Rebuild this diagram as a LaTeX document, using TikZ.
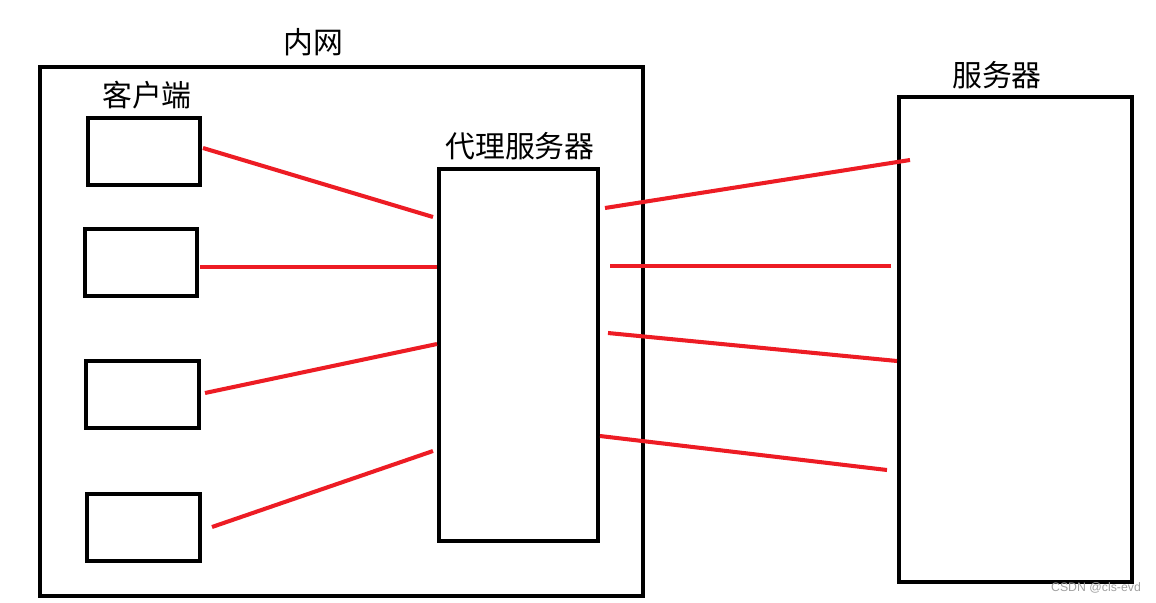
\documentclass[tikz,border=0pt]{standalone}
\usepackage{fontspec}
\usepackage{tikz}
\usetikzlibrary{positioning}
\newfontfamily\cjk{Noto Sans CJK SC}
\newfontfamily\wmfont{Liberation Sans}
\definecolor{linkred}{HTML}{ED1C24}
\definecolor{markgray}{HTML}{A0A0A0}

\begin{document}
\begin{tikzpicture}[x=0.02cm,y=-0.02cm,
  box/.style={draw,line width=2.3pt,inner sep=0pt},
  client/.style={box,minimum width=2.25cm,minimum height=1.34cm},
  link/.style={linkred,line width=2.3pt},
  tag/.style={font=\cjk\fontsize{17pt}{20pt}\selectfont,inner sep=0pt}]
\useasboundingbox (0,0) rectangle (1156,602);
\node[box,minimum width=12.06cm,minimum height=10.58cm] (net) at (341.5,331.5) {};
\node[tag] (netlabel) at (313,42) {内网};
\node[client] (c1) at (144,151.5) {};
\node[client] (c2) at (141,262.5) {};
\node[client] (c3) at (142.5,394.5) {};
\node[client] (c4) at (143.5,527.5) {};
\node[tag] (clientlabel) at (147,95) {客户端};
\node[box,minimum width=3.18cm,minimum height=7.44cm] (proxy) at (518.5,355) {};
\node[tag] (proxylabel) at (520,146) {代理服务器};
\node[box,minimum width=4.66cm,minimum height=9.7cm] (server) at (1015.5,339.5) {};
\node[tag] (serverlabel) at (997,75) {服务器};
% line ends
\coordinate (a1) at (203,148); \coordinate (b1) at (433,217);
\coordinate (a2) at (200,267); \coordinate (b2) at (437,267);
\coordinate (a3) at (205,393); \coordinate (b3) at (437,344);
\coordinate (a4) at (212,527); \coordinate (b4) at (433,451);
\coordinate (p1) at (605,208); \coordinate (s1) at (910,160);
\coordinate (p2) at (610,266); \coordinate (s2) at (891,266);
\coordinate (p3) at (608,333); \coordinate (s3) at (897,361);
\coordinate (p4) at (600,436); \coordinate (s4) at (887,470);
\foreach \i in {1,...,4}{
  \draw[link] (a\i) -- (b\i);
  \draw[link] (p\i) -- (s\i);
}
\node[font=\wmfont\fontsize{7pt}{8pt}\selectfont,text=markgray,inner sep=0pt] (mark) at (1096,588) {CSDN @cls-evd};
\end{tikzpicture}
\end{document}
